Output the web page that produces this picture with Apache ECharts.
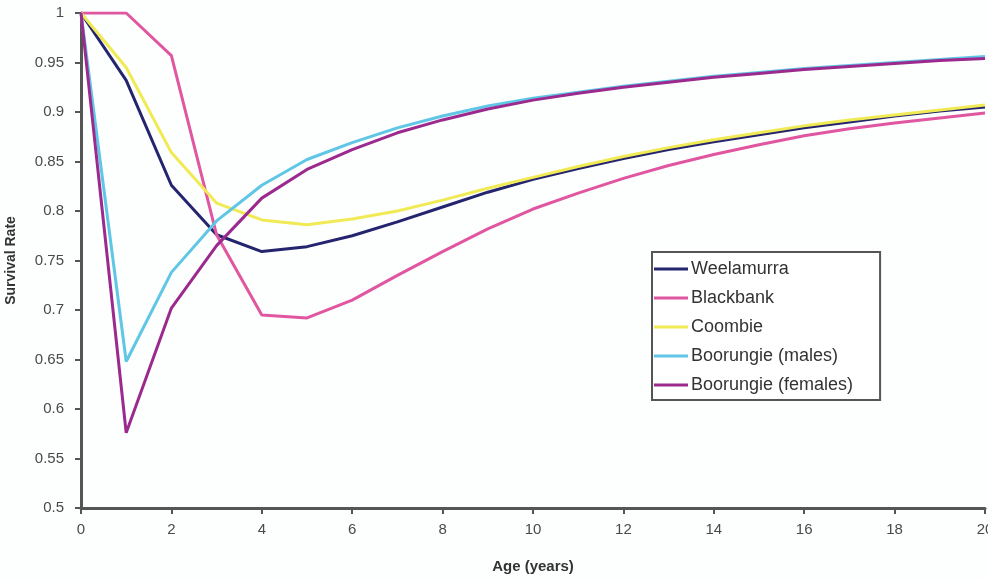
<!DOCTYPE html>
<html>
<head>
<meta charset="utf-8">
<script src="https://cdn.jsdelivr.net/npm/echarts@6/dist/echarts.min.js"></script>
<style>html,body{margin:0;padding:0;background:#fdfefe;}#c{width:988px;height:580px;}</style>
</head>
<body>
<div id="c"></div>
<script>
var ages = [0,1,2,3,4,5,6,7,8,9,10,11,12,13,14,15,16,17,18,19,20];
var seriesNames = ['Weelamurra','Blackbank','Coombie','Boorungie (males)','Boorungie (females)'];
var weelamurra = [1,0.932,0.826,0.776,0.759,0.764,0.775,0.789,0.804,0.819,0.832,0.843,0.853,0.862,0.870,0.877,0.884,0.890,0.896,0.901,0.905];
var blackbank = [1,1,0.957,0.776,0.695,0.692,0.710,0.735,0.759,0.782,0.802,0.818,0.833,0.846,0.857,0.867,0.876,0.883,0.889,0.894,0.899];
var coombie = [1,0.945,0.859,0.808,0.791,0.786,0.792,0.800,0.811,0.823,0.834,0.845,0.855,0.864,0.872,0.879,0.886,0.892,0.897,0.902,0.907];
var boorMales = [1,0.648,0.738,0.790,0.826,0.852,0.869,0.884,0.896,0.906,0.914,0.920,0.926,0.931,0.936,0.940,0.944,0.947,0.950,0.953,0.956];
var boorFemales = [1,0.576,0.702,0.765,0.813,0.842,0.862,0.879,0.892,0.903,0.912,0.919,0.925,0.930,0.935,0.939,0.943,0.946,0.949,0.952,0.954];
var xTicks = [0,2,4,6,8,10,12,14,16,18,20];
var yTicks = [0.5,0.55,0.6,0.65,0.7,0.75,0.8,0.85,0.9,0.95,1];

var values = [weelamurra, blackbank, coombie, boorMales, boorFemales];
var colors = ['#25256f','#e056a0','#f0ea55','#5fc6e6','#9c2a8e'];

function pairs(v){ return ages.map(function(a,i){ return [a, v[i]]; }); }

var chart = echarts.init(document.getElementById('c'), null, {renderer:'canvas'});
chart.setOption({
  animation: false,
  backgroundColor: '#fdfefe',
  textStyle: {fontFamily: 'Liberation Sans, Arial, sans-serif'},
  grid: {left: 81, right: 3, top: 13, bottom: 72, containLabel: false, outerBoundsMode: 'none'},
  xAxis: {
    type: 'value', min: xTicks[0], max: xTicks[xTicks.length-1], interval: 2,
    name: 'Age (years)', nameLocation: 'middle', nameGap: 51,
    nameTextStyle: {fontSize: 15, fontWeight: 'bold', color: '#333'},
    axisLine: {show: true, lineStyle: {color: '#555', width: 3}},
    axisTick: {show: true, inside: false, length: 6, lineStyle: {color: '#555', width: 2}},
    axisLabel: {fontSize: 15, color: '#4a4a4a', margin: 14},
    splitLine: {show: false}
  },
  yAxis: {
    type: 'value', min: yTicks[0], max: yTicks[yTicks.length-1], interval: 0.05,
    name: 'Survival Rate', nameLocation: 'middle', nameGap: 63, nameRotate: 90,
    nameTextStyle: {fontSize: 14, fontWeight: 'bold', color: '#333'},
    axisLine: {show: true, lineStyle: {color: '#555', width: 3}},
    axisTick: {show: true, inside: false, length: 6, lineStyle: {color: '#555', width: 2}},
    axisLabel: {fontSize: 15, color: '#4a4a4a', margin: 17,
      formatter: function(v){ return String(Math.round(v*100)/100); }},
    splitLine: {show: false}
  },
  legend: {
    orient: 'vertical', left: 652, top: 252,
    data: seriesNames,
    icon: 'rect', itemWidth: 34, itemHeight: 3, itemGap: 11,
    padding: [8, 27, 6, 2],
    borderColor: '#555', borderWidth: 2,
    backgroundColor: '#ffffff',
    textStyle: {fontSize: 18, color: '#333', lineHeight: 18, padding: [0,0,0,-2]}
  },
  series: values.map(function(v, i){
    return {
      name: seriesNames[i], type: 'line', data: pairs(v),
      symbol: 'none', smooth: false,
      lineStyle: {color: colors[i], width: 3},
      itemStyle: {color: colors[i]}
    };
  })
});
</script>
</body>
</html>
